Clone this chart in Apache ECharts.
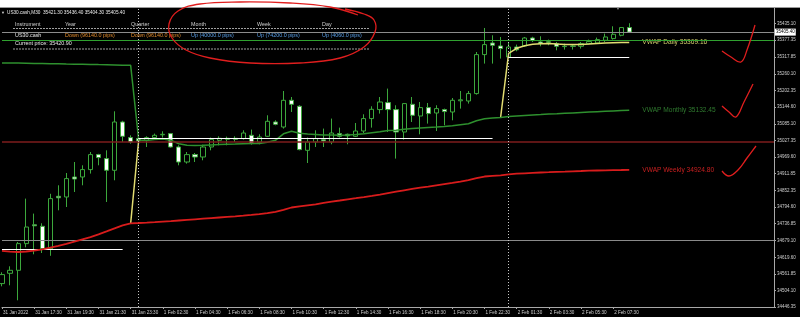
<!DOCTYPE html>
<html><head><meta charset="utf-8">
<script src="https://cdn.jsdelivr.net/npm/echarts@6/dist/echarts.min.js"></script>
<style>html,body{margin:0;padding:0;background:#000;}#c{width:800px;height:317px;}</style>
</head><body><div id="c"></div>
<script>
const FF = "'Liberation Sans', Arial, sans-serif";
const times = ['31 Jan 15:30','31 Jan 16:00','31 Jan 16:30','31 Jan 17:00','31 Jan 17:30','31 Jan 18:00','31 Jan 18:30','31 Jan 19:00','31 Jan 19:30','31 Jan 20:00','31 Jan 20:30','31 Jan 21:00','31 Jan 21:30','31 Jan 22:00','31 Jan 22:30','31 Jan 23:00','31 Jan 23:30',
'1 Feb 01:00','1 Feb 01:30','1 Feb 02:00','1 Feb 02:30','1 Feb 03:00','1 Feb 03:30','1 Feb 04:00','1 Feb 04:30','1 Feb 05:00','1 Feb 05:30','1 Feb 06:00','1 Feb 06:30','1 Feb 07:00','1 Feb 07:30','1 Feb 08:00','1 Feb 08:30','1 Feb 09:00','1 Feb 09:30','1 Feb 10:00','1 Feb 10:30','1 Feb 11:00','1 Feb 11:30','1 Feb 12:00','1 Feb 12:30','1 Feb 13:00','1 Feb 13:30','1 Feb 14:00','1 Feb 14:30','1 Feb 15:00','1 Feb 15:30','1 Feb 16:00','1 Feb 16:30','1 Feb 17:00','1 Feb 17:30','1 Feb 18:00','1 Feb 18:30','1 Feb 19:00','1 Feb 19:30','1 Feb 20:00','1 Feb 20:30','1 Feb 21:00','1 Feb 21:30','1 Feb 22:00','1 Feb 22:30','1 Feb 23:00','1 Feb 23:30',
'2 Feb 01:00','2 Feb 01:30','2 Feb 02:00','2 Feb 02:30','2 Feb 03:00','2 Feb 03:30','2 Feb 04:00','2 Feb 04:30','2 Feb 05:00','2 Feb 05:30','2 Feb 06:00','2 Feb 06:30','2 Feb 07:00','2 Feb 07:30','2 Feb 08:00','2 Feb 08:30'];
const tickLabels = ['31 Jan 2022','31 Jan 17:30','31 Jan 19:30','31 Jan 21:30','31 Jan 23:30','1 Feb 02:30','1 Feb 04:30','1 Feb 06:30','1 Feb 08:30','1 Feb 10:30','1 Feb 12:30','1 Feb 14:30','1 Feb 16:30','1 Feb 18:30','1 Feb 20:30','1 Feb 22:30','2 Feb 01:30','2 Feb 03:30','2 Feb 05:30','2 Feb 07:30'];
const priceTicks = [35435.10,35377.35,35317.85,35260.10,35202.35,35144.60,35085.10,35027.35,34969.60,34911.85,34852.35,34794.60,34736.85,34679.10,34619.60,34561.85,34504.10,34446.35];

const opens = [34528.0,34563.9,34574.4,34667.5,34733.1,34727.9,34649.4,34832.6,34830.1,34899.9,34899.9,34925.7,34978.0,34964.1,34923.3,35091.8,35037.4,
35033.9,35027.9,35037.4,35047.1,35051.3,35004.6,34952.2,34978.0,34969.7,35004.6,35027.9,35031.4,35034.9,35033.9,35045.4,35021.0,35041.9,35091.8,35074.3,35167.5,35146.6,34993.0,35022.0,35029.7,35022.0,35051.3,35048.9,35041.9,35060.4,35103.7,35135.1,35159.5,35135.1,35056.9,35153.5,35112.7,35142.0,35123.2,35135.1,35126.7,35165.8,35165.1,35190.9,35326.9,35367.4,35357.0,
35318.6,35353.5,35357.0,35384.9,35370.9,35371.6,35365.3,35355.9,35357.0,35355.9,35365.3,35367.4,35376.8,35382.8,35394.3,35421.3];
const highs = [34567.4,34588.3,34673.1,34824.5,34772.2,34738.4,34841.3,34870.9,34913.8,34952.2,34940.7,34987.1,34980.8,34993.0,35129.1,35096.0,35045.4,
35038.4,35041.9,35051.3,35059.3,35053.4,35010.5,34987.1,34983.6,35012.9,35037.4,35041.9,35040.8,35041.9,35062.8,35065.3,35048.9,35115.2,35097.7,35199.9,35179.0,35150.1,35037.4,35062.8,35068.8,35103.7,35072.2,35051.3,35088.3,35118.7,35146.6,35179.0,35208.3,35150.1,35158.1,35179.0,35161.6,35158.1,35150.1,35138.5,35175.5,35199.9,35199.9,35336.0,35419.8,35394.3,35388.4,
35370.9,35361.8,35388.4,35389.1,35390.8,35379.3,35370.9,35365.3,35362.9,35370.9,35379.3,35386.3,35400.2,35425.7,35423.2,35436.4];
const lows = [34518.5,34522.0,34469.7,34654.6,34630.2,34634.7,34625.0,34783.7,34795.2,34847.6,34870.9,34911.8,34940.7,34812.7,34888.4,35022.0,35016.4,
35021.0,35004.6,35033.9,35037.4,35002.5,34940.7,34946.6,34952.2,34958.2,34993.0,35010.5,35010.5,35022.0,35030.4,35012.9,35014.0,35039.5,35080.3,35068.8,35126.7,34993.0,34948.7,35004.6,35004.6,35014.0,35037.4,35014.0,35039.5,35053.4,35072.2,35121.1,35056.9,34964.1,35030.4,35091.8,35048.9,35086.2,35060.4,35080.3,35097.7,35138.5,35156.0,35187.4,35295.5,35295.5,35313.0,
35317.5,35338.5,35353.5,35370.9,35355.9,35359.4,35341.9,35344.4,35344.4,35347.9,35362.9,35365.3,35370.9,35379.3,35390.8,35404.3];
const closes = [34559.4,34574.4,34667.5,34725.4,34729.6,34650.1,34824.5,34827.3,34894.3,34892.9,34925.7,34978.0,34967.6,34923.3,35091.8,35041.9,35022.0,
35025.5,35037.4,35045.4,35048.9,35004.6,34952.2,34978.0,34969.7,35004.6,35030.4,35034.9,35034.9,35031.4,35053.4,35016.4,35039.5,35094.2,35083.8,35167.5,35153.5,34995.5,35022.0,35033.9,35025.5,35053.4,35041.9,35043.6,35060.4,35103.7,35136.1,35161.6,35135.1,35056.9,35156.0,35115.2,35142.0,35121.1,35138.5,35128.1,35167.5,35169.2,35190.9,35326.9,35361.8,35359.4,35347.9,
35353.5,35343.7,35384.9,35375.8,35365.3,35369.9,35355.9,35354.9,35355.9,35365.3,35372.3,35379.3,35388.4,35397.8,35421.3,35405.4];

const vwapWeekly = [34642.4,34639.6,34638.2,34640.0,34643.4,34647.6,34653.6,34659.9,34666.8,34674.5,34682.5,34690.2,34700.0,34710.4,34720.9,34731.4,34738.4,
34739.4,34740.8,34742.5,34744.3,34746.0,34748.1,34750.2,34752.3,34754.4,34756.5,34758.6,34760.7,34762.8,34765.2,34767.7,34770.5,34773.9,34778.5,34785.5,34793.5,34797.7,34801.2,34804.6,34809.9,34814.1,34817.9,34822.1,34825.9,34829.8,34834.0,34838.5,34843.7,34848.6,34853.5,34858.4,34862.9,34866.4,34870.9,34875.1,34879.3,34883.8,34889.1,34896.1,34901.6,34904.1,34905.8,
34909.3,34911.4,34912.8,34914.2,34915.6,34916.6,34917.7,34918.7,34919.8,34920.8,34921.9,34922.6,34923.3,34924.0,34924.3,34924.80];
const vwapMonthly = [35298.0,35297.6,35297.3,35296.8,35296.1,35295.7,35295.3,35294.8,35294.0,35293.6,35293.2,35292.6,35292.0,35291.5,35290.8,35290.1,35289.6,
35029.0,35027.2,35030.4,35032.1,35027.9,35015.7,35010.5,35009.5,35010.5,35011.9,35012.9,35014.0,35014.7,35016.1,35016.4,35016.8,35021.0,35027.9,35050.6,35059.3,35052.4,35049.6,35048.2,35046.8,35046.1,35045.4,35046.1,35047.8,35050.6,35054.1,35057.6,35061.8,35062.8,35066.3,35068.8,35071.2,35072.6,35074.0,35075.7,35078.5,35082.0,35085.5,35096.0,35102.9,35105.4,35107.5,
35110.6,35112.4,35114.1,35115.9,35117.6,35119.4,35120.7,35122.1,35123.5,35124.9,35126.3,35127.7,35129.1,35130.5,35131.6,35132.45];
const vwapDaily = [...Array(16).fill(null), 34738.4, 35029.0, ...Array(44).fill(null), 35107.5,
35331.5,35348.9,35357.7,35362.9,35364.6,35365.3,35363.6,35362.2,35361.8,35362.2,35363.6,35365.3,35367.1,35368.5,35368.9,35369.16];

// horizontal chart objects
const greenLevel = 35377.35, darkRedLevel = 35022.0, grayLevel = 34679.10;
const dayOpenPrices = [34646.6, 35033.9, 35318.6];
const dayOpenFrom = [0, 17, 63];
const dayOpenTo = [15, 61, 78];
const separatorIdx = [17, 63];

// panel texts
const panelCols = ['Instrument','Year','Quarter','Month','Week','Day'];
const panelVals = ['US30.cash','Down (96140.0 pips)','Down (96140.0 pips)','Up (40000.0 pips)','Up (74200.0 pips)','Up (4060.0 pips)'];
const panelColsX = [15, 65, 131, 191, 257, 322];
const panelValColor = ['#e8e8e8','#e08a2c','#e08a2c','#5a9ee6','#5a9ee6','#5a9ee6'];

const axisCats = times.concat(Array.from({length: 18}, (_, k) => 'pad' + k));
const lastClose = closes[closes.length - 1];
const candleData = opens.map((o, i) => [o, closes[i], lows[i], highs[i]]);

const chart = echarts.init(document.getElementById('c'), null, {renderer: 'canvas'});

const mlData = [
  {yAxis: greenLevel, lineStyle: {color: '#2fa02f', width: 1, type: 'solid'}, label: {show: false}},
  {yAxis: darkRedLevel, lineStyle: {color: '#7e1c1c', width: 1.5, type: 'solid'}, label: {show: false}},
  {yAxis: grayLevel, lineStyle: {color: '#8a8a8a', width: 1.2, type: 'solid'}, label: {show: false}},
  {yAxis: lastClose, lineStyle: {color: '#8c8c8c', width: 1, type: 'solid'},
   label: {show: true, position: 'end', distance: 1, formatter: p => p.value.toFixed(2), color: '#000', backgroundColor: '#fff', fontSize: 4.5, fontFamily: FF, padding: [1, 1, 1, 1]}},
];
separatorIdx.forEach(i => mlData.push({xAxis: times[i], lineStyle: {color: '#c8c8c8', width: 1, type: [1, 2]}, label: {show: false}}));
dayOpenPrices.forEach((p, k) => mlData.push([
  {coord: [times[dayOpenFrom[k]], p], lineStyle: {color: '#ffffff', width: 1.2, type: 'solid'}, label: {show: false}},
  {coord: [times[dayOpenTo[k]], p]}
]));

const graphics = [
  {type: 'rect', shape: {x: 0, y: 0, width: 800, height: 7}, style: {fill: '#fff'}, z: 100},
  {type: 'line', shape: {x1: 0, y1: 7.5, x2: 800, y2: 7.5}, style: {stroke: '#9a9a9a', lineWidth: 1}, z: 100},
  {type: 'text', x: 1, y: 12.5, style: {text: '\u25BC', fill: '#d0d0d0', font: '4px ' + FF, verticalAlign: 'middle'}, z: 100},
  {type: 'text', x: 7, y: 12.5, style: {text: 'US30.cash,M30  ' + [opens[78], highs[78], lows[78], closes[78]].map(v => v.toFixed(2)).join(' '), fill: '#e8e8e8', font: '4.7px ' + FF, verticalAlign: 'middle'}, z: 100},
  {type: 'line', shape: {x1: 13, y1: 28.5, x2: 370, y2: 28.5}, style: {stroke: '#a0a0a0', lineWidth: 1, lineDash: [2, 1]}, z: 100},
  {type: 'line', shape: {x1: 13, y1: 49, x2: 370, y2: 49}, style: {stroke: '#a0a0a0', lineWidth: 1, lineDash: [2, 1]}, z: 100},
  {type: 'text', x: 15, y: 44, style: {text: 'Current price: 35420.90', fill: '#e8e8e8', font: '5.4px ' + FF, verticalAlign: 'middle'}, z: 100},
  {type: 'text', x: 616, y: 9, style: {text: '\u25BC', fill: '#8a8a8a', font: '4px ' + FF, verticalAlign: 'middle'}, z: 100},
];
panelCols.forEach((t, k) => graphics.push({type: 'text', x: panelColsX[k], y: 24.3, style: {text: t, fill: '#cfcfcf', font: '5.4px ' + FF, verticalAlign: 'middle'}, z: 100}));
panelVals.forEach((t, k) => graphics.push({type: 'text', x: panelColsX[k], y: 36, style: {text: t, fill: panelValColor[k], font: '5.4px ' + FF, verticalAlign: 'middle'}, z: 100}));

// hand-drawn red annotations
const redStroke = {stroke: '#e01e1e', lineWidth: 1.3, fill: null};
const strokes = [
  [[358,15],[330,7],[290,3],[240,2],[200,4],[178,11],[169,24],[172,38],[186,50],[210,58],[250,63],[300,63],[340,58],[364,47],[375,32],[374,20],[364,14],[345,9]],
  [[722,51],[731,57],[741,62],[747,50],[755,25]],
  [[722,106],[729,112],[736,117],[744,102],[753,84]],
  [[722,171],[729,176],[738,170],[747,158],[756,146]]
];
strokes.forEach(pts => graphics.push({type: 'polyline', shape: {points: pts, smooth: 0.4}, style: redStroke, z: 110}));

chart.setOption({
  animation: false,
  backgroundColor: '#000',
  grid: {left: 0, right: 26, top: 7, bottom: 10, containLabel: false},
  xAxis: {
    type: 'category', data: axisCats, boundaryGap: false,
    axisLine: {lineStyle: {color: '#a8a8a8', width: 1}},
    axisTick: {show: true, length: 2, interval: idx => idx % 4 === 0 && idx < times.length, lineStyle: {color: '#a8a8a8'}},
    axisLabel: {interval: idx => idx % 4 === 0 && idx / 4 < tickLabels.length, formatter: (v, idx) => tickLabels[idx / 4] || '',
      color: '#cfcfcf', fontSize: 4.6, fontFamily: FF, align: 'left', margin: 3, padding: [0, 0, 0, 1]},
    splitLine: {show: false}
  },
  yAxis: {
    type: 'value', position: 'right', min: 34446.35, max: 35493.0, scale: true,
    axisLine: {show: true, lineStyle: {color: '#a8a8a8', width: 1}},
    axisTick: {show: true, length: 2, customValues: priceTicks, lineStyle: {color: '#a8a8a8'}},
    axisLabel: {customValues: priceTicks, formatter: v => v.toFixed(2), color: '#cfcfcf', fontSize: 4.5, fontFamily: FF, margin: 3},
    splitLine: {show: false}
  },
  series: [
    {type: 'candlestick', data: candleData, barWidth: 4.6, z: 2,
     itemStyle: {color: '#000', color0: '#ffffff', borderColor: '#3ca83c', borderColor0: '#3ca83c', borderColorDoji: '#3ca83c', borderWidth: 1},
     markLine: {silent: true, symbol: ['none', 'none'], animation: false, data: mlData}},
    {type: 'line', data: vwapMonthly, z: 4, symbol: 'none', showSymbol: false, lineStyle: {color: '#2e902e', width: 1.5},
     endLabel: {show: true, formatter: p => 'VWAP Monthly ' + p.value.toFixed(2), color: '#2f7a2f', fontSize: 6.6, fontFamily: FF, distance: 13}},
    {type: 'line', data: vwapDaily, z: 3, symbol: 'none', showSymbol: false, connectNulls: false, lineStyle: {color: '#e2dc72', width: 1.5},
     endLabel: {show: true, formatter: p => 'VWAP Daily ' + p.value.toFixed(2), color: '#cfcb6a', fontSize: 6.6, fontFamily: FF, distance: 13}},
    {type: 'line', data: vwapWeekly, z: 5, symbol: 'none', showSymbol: false, lineStyle: {color: '#d81c1c', width: 1.8},
     endLabel: {show: true, formatter: p => 'VWAP Weekly ' + p.value.toFixed(2), color: '#c82020', fontSize: 6.6, fontFamily: FF, distance: 13}}
  ],
  graphic: graphics
});
</script></body></html>
